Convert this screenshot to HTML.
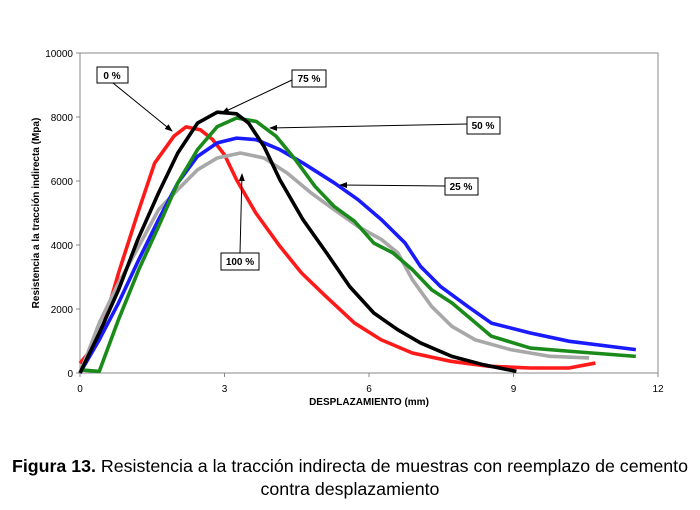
<!DOCTYPE html>
<html><head><meta charset="utf-8"><style>
body{margin:0;background:#fff;width:700px;height:510px;overflow:hidden;font-family:"Liberation Sans",Arial,sans-serif}
.cap{position:absolute;left:0;width:700px;text-align:center;font-size:17.8px;color:#000;white-space:nowrap}
</style></head><body>
<svg width="700" height="510" style="position:absolute;left:0;top:0" font-family="Liberation Sans, Arial, sans-serif">
<defs><marker id="ah" markerWidth="8" markerHeight="8" refX="7" refY="4" orient="auto"><path d="M0,1 L8,4 L0,7 z" fill="#000"/></marker></defs>
<rect x="80" y="53" width="578" height="320" fill="#fff" stroke="#888" stroke-width="1"/>
<g id="axes"></g>
<g id="series"></g>
<text x="369" y="405" font-size="10" font-weight="bold" text-anchor="middle">DESPLAZAMIENTO (mm)</text>
<text transform="translate(39,213) rotate(-90)" font-size="10" font-weight="bold" text-anchor="middle">Resistencia a la tracción indirecta (Mpa)</text>
<g font-size="10" font-weight="bold" stroke-width="1">
<line x1="113" y1="83" x2="172" y2="131" stroke="#000" marker-end="url(#ah)"/>
<line x1="292" y1="80" x2="222" y2="113" stroke="#000" marker-end="url(#ah)"/>
<line x1="467" y1="124" x2="270" y2="128" stroke="#000" marker-end="url(#ah)"/>
<line x1="445" y1="186" x2="340" y2="185" stroke="#000" marker-end="url(#ah)"/>
<line x1="240" y1="253" x2="242" y2="174" stroke="#000" marker-end="url(#ah)"/>
<g><rect x="97" y="67" width="31" height="16" fill="#fff" stroke="#000"/><text x="112" y="79" text-anchor="middle">0 %</text></g>
<g><rect x="292" y="70" width="34" height="17" fill="#fff" stroke="#000"/><text x="309" y="82" text-anchor="middle">75 %</text></g>
<g><rect x="467" y="117" width="33" height="17" fill="#fff" stroke="#000"/><text x="483" y="129" text-anchor="middle">50 %</text></g>
<g><rect x="445" y="178" width="33" height="17" fill="#fff" stroke="#000"/><text x="461" y="190" text-anchor="middle">25 %</text></g>
<g><rect x="221" y="253" width="38" height="17" fill="#fff" stroke="#000"/><text x="240" y="265" text-anchor="middle">100 %</text></g>
</g>
</svg>
<div class="cap" style="top:456px"><b>Figura 13.</b> Resistencia a la tracción indirecta de muestras con reemplazo de cemento</div>
<div class="cap" style="top:479px">contra desplazamiento</div>
<script>
const xTicks=[0,3,6,9,12];
const yTicks=[0,2000,4000,6000,8000,10000];
const redX=[0,0.4,0.8,1.2,1.55,1.95,2.2,2.5,2.75,3.0,3.25,3.65,4.15,4.6,5.1,5.7,6.25,6.9,7.7,8.5,9.35,10.15,10.7];
const redY=[300,1040,3125,5000,6560,7400,7690,7600,7300,6820,6040,5000,3960,3125,2400,1560,1040,625,365,210,156,156,310];
const blackX=[0,0.4,0.8,1.2,1.63,2.03,2.44,2.85,3.25,3.5,3.82,4.15,4.63,5.12,5.6,6.1,6.6,7.07,7.72,8.37,9.06];
const blackY=[0,1250,2600,4170,5625,6875,7810,8150,8100,7810,7080,6040,4790,3750,2700,1875,1350,940,520,260,50];
const greenX=[0,0.4,0.8,1.22,1.63,2.03,2.44,2.85,3.25,3.66,4.07,4.47,4.88,5.28,5.7,6.1,6.5,6.9,7.3,7.72,8.13,8.54,9.35,10.16,11.54];
const greenY=[100,50,1670,3230,4580,5940,6980,7700,7970,7860,7400,6670,5830,5200,4740,4060,3750,3230,2600,2190,1670,1150,780,680,520];
const blueX=[0,0.4,0.8,1.22,1.63,2.03,2.44,2.85,3.25,3.66,4.15,4.63,5.28,5.77,6.26,6.75,7.07,7.48,8.05,8.54,9.35,10.16,11.54];
const blueY=[0,1040,2190,3540,4790,5940,6770,7190,7340,7290,6980,6560,5940,5420,4790,4060,3330,2710,2080,1560,1250,990,730];
const grayX=[0,0.4,0.8,1.22,1.63,2.03,2.44,2.85,3.33,3.82,4.3,4.8,5.28,5.77,6.26,6.6,6.9,7.3,7.72,8.2,8.94,9.76,10.57];
const grayY=[0,1560,2810,3960,5100,5730,6350,6720,6875,6720,6250,5625,5100,4580,4170,3750,2920,2080,1460,1040,730,520,470];
const NS='http://www.w3.org/2000/svg';
const sx=v=>80+v*(578/12), sy=v=>373-v*(320/10000);
const axes=document.getElementById('axes');
xTicks.forEach(t=>{
 const l=document.createElementNS(NS,'line');l.setAttribute('x1',sx(t));l.setAttribute('x2',sx(t));l.setAttribute('y1',373);l.setAttribute('y2',377);l.setAttribute('stroke','#888');
 
 
 axes.appendChild(l);
 const tx=document.createElementNS(NS,'text');tx.setAttribute('x',sx(t));tx.setAttribute('y',392);tx.setAttribute('font-size','10');tx.setAttribute('text-anchor','middle');tx.textContent=t;
 
 
 axes.appendChild(tx);
});
yTicks.forEach(t=>{
 const l=document.createElementNS(NS,'line');l.setAttribute('x1',76);l.setAttribute('x2',80);l.setAttribute('y1',sy(t));l.setAttribute('y2',sy(t));l.setAttribute('stroke','#888');
 
 
 axes.appendChild(l);
 const tx=document.createElementNS(NS,'text');tx.setAttribute('x',73);tx.setAttribute('y',sy(t)+4);tx.setAttribute('font-size','10');tx.setAttribute('text-anchor','end');tx.textContent=t;
 
 
 axes.appendChild(tx);
});
const g=document.getElementById('series');
function draw(xs,ys,color,name){
 const p=document.createElementNS(NS,'polyline');
 p.setAttribute('points',xs.map((x,i)=>sx(x)+','+sy(ys[i])).join(' '));
 p.setAttribute('fill','none');p.setAttribute('stroke',color);p.setAttribute('stroke-width','3.6');p.setAttribute('stroke-linejoin','round');
 
 
 g.appendChild(p);
}
draw(redX,redY,'#ff1a1a','series-0pct');
draw(grayX,grayY,'#a8a8a8','series-100pct');
draw(blueX,blueY,'#1a1aff','series-25pct');
draw(greenX,greenY,'#1a8a1a','series-50pct');
draw(blackX,blackY,'#000000','series-75pct');
</script>
</body></html>
